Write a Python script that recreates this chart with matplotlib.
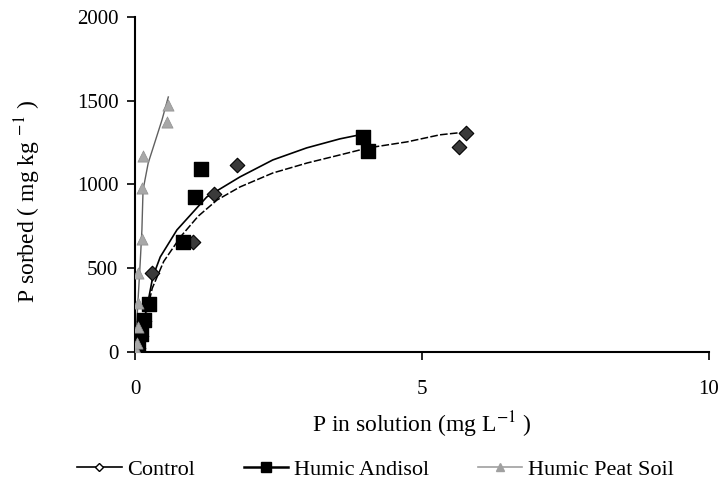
import numpy as np
import matplotlib
matplotlib.use("Agg")
import matplotlib.pyplot as plt

plt.rcParams["font.family"] = ["Liberation Serif", "DejaVu Serif"]
plt.rcParams["mathtext.fontset"] = "stix"

# measured points (P in solution mg/L, P sorbed mg/kg)
control_x = [0.05, 0.10, 0.16, 0.30, 1.01, 1.38, 1.78, 5.64, 5.77]
control_y = [25, 95, 185, 470, 657, 940, 1116, 1224, 1307]
andisol_x = [0.05, 0.10, 0.15, 0.24, 0.84, 1.05, 1.15, 3.97, 4.06]
andisol_y = [30, 105, 190, 287, 657, 925, 1093, 1284, 1200]
peat_x = [0.02, 0.03, 0.05, 0.06, 0.05, 0.12, 0.12, 0.14, 0.55, 0.58]
peat_y = [10, 55, 150, 290, 472, 675, 979, 1170, 1373, 1475]

# fitted trend curves
control_fit_x = [0.02, 0.1, 0.2, 0.3, 0.5, 0.8, 1.1, 1.43, 1.83, 2.4, 3.0, 3.57, 4.06, 4.74, 5.31, 5.77]
control_fit_y = [20, 110, 230, 380, 540, 690, 810, 907, 985, 1068, 1128, 1176, 1218, 1254, 1296, 1313]
andisol_fit_x = [0.05, 0.1, 0.21, 0.31, 0.44, 0.73, 1.25, 1.83, 2.4, 2.99, 3.57, 3.97]
andisol_fit_y = [40, 120, 269, 448, 567, 728, 925, 1045, 1146, 1218, 1272, 1300]
peat_fit_x = [0.0, 0.04, 0.09, 0.12, 0.14, 0.23, 0.32, 0.47, 0.58]
peat_fit_y = [30, 233, 531, 728, 967, 1128, 1224, 1385, 1522]

fig = plt.figure(figsize=(7.22, 4.84), dpi=100)
ax = fig.add_axes([0.187, 0.273, 0.795, 0.692])

ax.plot(peat_fit_x, peat_fit_y, color="#606060", lw=1.0, zorder=2)
ax.plot(andisol_fit_x, andisol_fit_y, color="black", lw=1.2, zorder=2)
ax.plot(control_fit_x, control_fit_y, color="black", lw=1.1, ls=(0, (5, 1.5)), zorder=2)

ax.scatter(control_x, control_y, marker="D", s=55, c="#3a3a3a", edgecolors="black", lw=0.8, zorder=3)
ax.scatter(andisol_x, andisol_y, marker="s", s=95, c="black", zorder=3)
ax.scatter(peat_x, peat_y, marker="^", s=65, c="#a8a8a8", edgecolors="#909090", lw=0.5, zorder=4)

# legend proxies
h1, = ax.plot([], [], color="black", lw=1.2, marker="D", ms=4, mfc="white", mec="black")
h2, = ax.plot([], [], color="black", lw=1.8, marker="s", ms=7, mfc="black")
h3, = ax.plot([], [], color="#a0a0a0", lw=1.2, marker="^", ms=6, mfc="#a0a0a0")
fig.legend([h1, h2, h3], ["Control", "Humic Andisol", "Humic Peat Soil"],
           loc="center", bbox_to_anchor=(0.52, 0.03), ncol=3, frameon=False,
           fontsize=16, handlelength=2.0, handletextpad=0.25, columnspacing=2.2)

ax.set_xlim(0, 10)
ax.set_ylim(0, 2000)
ax.set_xticks([0, 5, 10])
ax.set_yticks([0, 500, 1000, 1500, 2000])
ax.spines["top"].set_visible(False)
ax.spines["right"].set_visible(False)
ax.spines["left"].set_linewidth(1.5)
ax.spines["bottom"].set_linewidth(1.5)
ax.tick_params(direction="out", length=6, width=1.2, labelsize=15)
ax.tick_params(axis="x", pad=14)
ax.tick_params(axis="y", pad=6)

ax.set_xlabel("P in solution (mg L$^{-1}$ )", fontsize=17, labelpad=8)
ax.set_ylabel("P sorbed ( mg kg $^{-1}$ )", fontsize=17)
ax.yaxis.set_label_coords(-0.16, 0.45)

fig.savefig("out.png", dpi=100)
